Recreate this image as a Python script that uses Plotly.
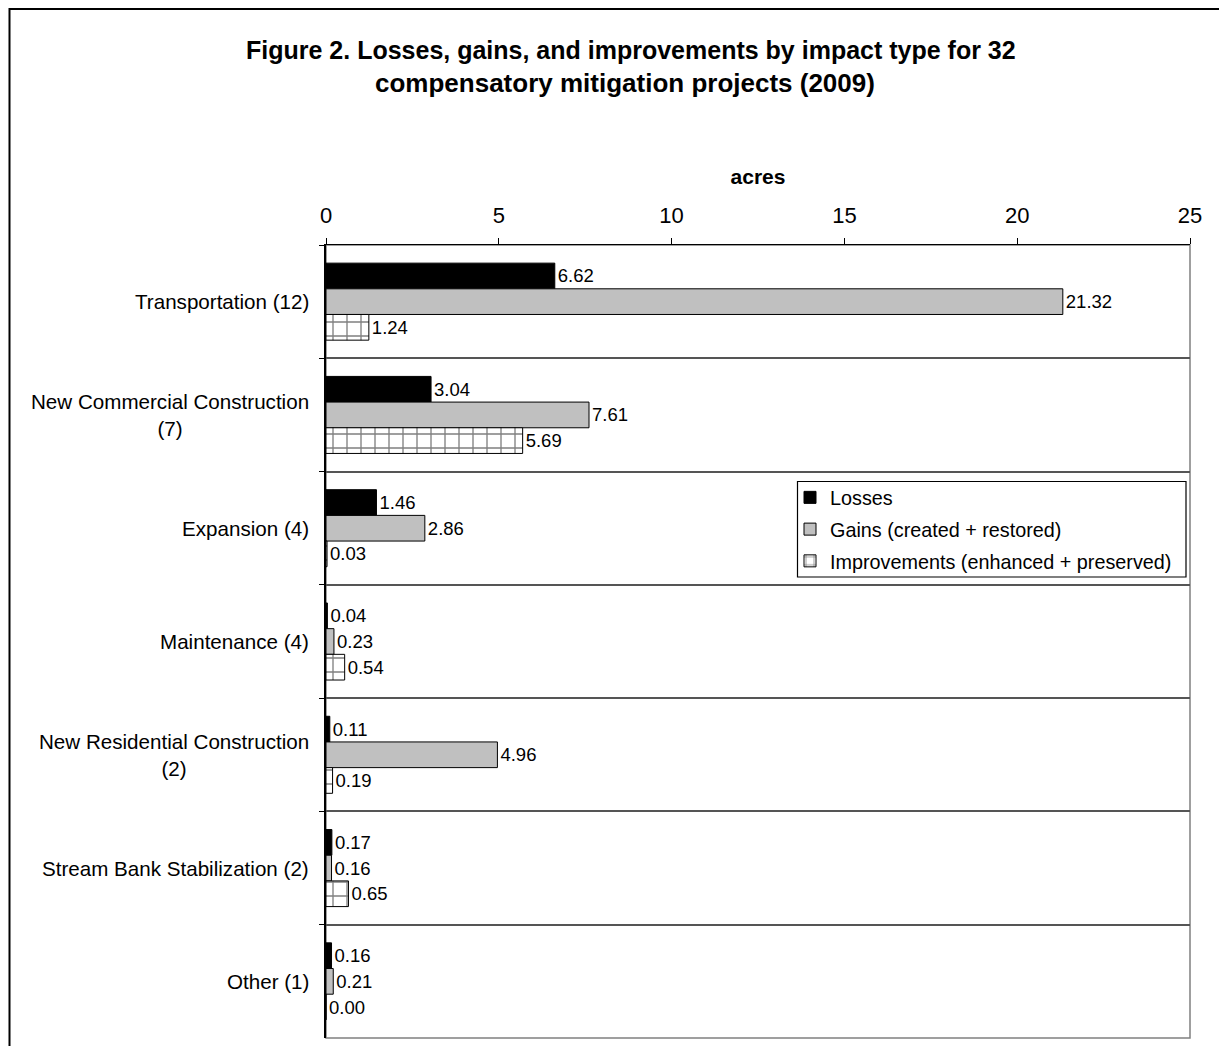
import plotly.graph_objects as go

categories = [
    "Transportation (12)",
    "New Commercial Construction<br>(7)",
    "Expansion (4)",
    "Maintenance (4)",
    "New Residential Construction<br>(2)",
    "Stream Bank Stabilization (2)",
    "Other (1)",
]
losses = [6.62, 3.04, 1.46, 0.04, 0.11, 0.17, 0.16]
gains = [21.32, 7.61, 2.86, 0.23, 4.96, 0.16, 0.21]
improvements = [1.24, 5.69, 0.03, 0.54, 0.19, 0.65, 0.00]

series_names = ["Losses", "Gains (created + restored)", "Improvements (enhanced + preserved)"]
x_ticks = [0, 5, 10, 15, 20, 25]

FONT = "Arial, Liberation Sans, sans-serif"
OFF = 8  # page body margin
W, H = 1227 - OFF, 1046 - OFF
L, T = 326 - OFF, 245 - OFF
RIGHT, BOTTOM = 1190 - OFF, 1038 - OFF
R, B = W - RIGHT, H - BOTTOM
PW = RIGHT - L
PH = BOTTOM - T


def px_x(px):
    # page pixel -> paper fraction
    return (px - OFF - L) / PW


def px_y(py):
    return 1 + (T - (py - OFF)) / PH


fig = go.Figure()

common = dict(
    orientation="h",
    textposition="outside",
    texttemplate="%{x:.2f}",
    textfont=dict(size=18.5, color="black", family=FONT),
    constraintext="none",
    cliponaxis=False,
    hoverinfo="skip",
)

fig.add_trace(go.Bar(
    y=categories, x=losses, name=series_names[0], legendgroup="a",
    marker=dict(color="black", line=dict(color="black", width=1)),
    **common,
))
fig.add_trace(go.Bar(
    y=categories, x=gains, name=series_names[1], legendgroup="b",
    marker=dict(color="#c0c0c0", line=dict(color="black", width=1)),
    **common,
))
fig.add_trace(go.Bar(
    y=categories, x=improvements, name=series_names[2], legendgroup="c",
    marker=dict(color="white", line=dict(color="black", width=1),
                pattern=dict(shape="+", size=14, solidity=0.18,
                             fgcolor="black", bgcolor="white", fillmode="overlay")),
    **common,
))

fig.update_layout(
    width=W, height=H,
    margin=dict(l=L, r=R, t=T, b=B),
    paper_bgcolor="white",
    plot_bgcolor="white",
    font=dict(family=FONT, color="black", size=19),
    barmode="group",
    bargap=0.32,
    bargroupgap=0,
    showlegend=True,
    legend=dict(
        x=px_x(790), xanchor="left",
        y=px_y(478), yanchor="top",
        borderwidth=0,
        bgcolor="rgba(0,0,0,0)",
        font=dict(size=19.8, family=FONT),
        traceorder="grouped",
        tracegroupgap=3,
    ),
)

fig.update_xaxes(
    side="top",
    range=[0, 25],
    tickvals=x_ticks,
    ticks="outside", ticklen=6, tickcolor="black", tickwidth=1,
    ticklabelstandoff=6,
    showline=True, linecolor="black", linewidth=1,
    showgrid=False, zeroline=False,
    tickfont=dict(size=22, family=FONT),
    title=dict(text="<b>acres</b>", font=dict(size=21, family=FONT), standoff=12),
)

fig.update_yaxes(
    type="category",
    categoryorder="array", categoryarray=categories,
    autorange="reversed",
    showticklabels=False,
    tickson="boundaries",
    ticks="outside", ticklen=5, tickcolor="black",
    showgrid=True, gridcolor="#555555", gridwidth=1.5,
    showline=True, linecolor="black", linewidth=1.5,
    zeroline=False,
)

# category labels (centered multi-line, right-anchored like the original)
for c in categories:
    fig.add_annotation(
        x=0, xref="paper", y=c, yref="y",
        text=c, showarrow=False,
        xanchor="right", yanchor="middle", align="center",
        xshift=-15,
        font=dict(size=20.6, family=FONT, color="black"),
    )

# title
fig.add_annotation(
    x=px_x(631), xref="paper", y=px_y(50), yref="paper",
    text="<b>Figure 2. Losses, gains, and improvements by impact type for 32</b>",
    showarrow=False, xanchor="center", yanchor="middle",
    font=dict(size=25, family=FONT, color="black"),
)
fig.add_annotation(
    x=px_x(625), xref="paper", y=px_y(83), yref="paper",
    text="<b>compensatory mitigation projects (2009)</b>",
    showarrow=False, xanchor="center", yanchor="middle",
    font=dict(size=26, family=FONT, color="black"),
)

# plot-area border, legend box and outer chart frame
fig.add_shape(type="rect", xref="paper", yref="paper", x0=0, x1=1, y0=0, y1=1,
              line=dict(color="#808080", width=1.5), layer="below")
fig.add_shape(type="rect", xref="paper", yref="paper",
              x0=px_x(797.5), x1=px_x(1186), y0=px_y(577), y1=px_y(481.5),
              line=dict(color="black", width=1.2), fillcolor="white", layer="above")
fig.add_shape(type="rect", xref="paper", yref="paper",
              x0=px_x(9.5), x1=1.5, y0=-0.5, y1=px_y(9),
              line=dict(color="black", width=2), layer="below")

fig.write_html("out.html")
